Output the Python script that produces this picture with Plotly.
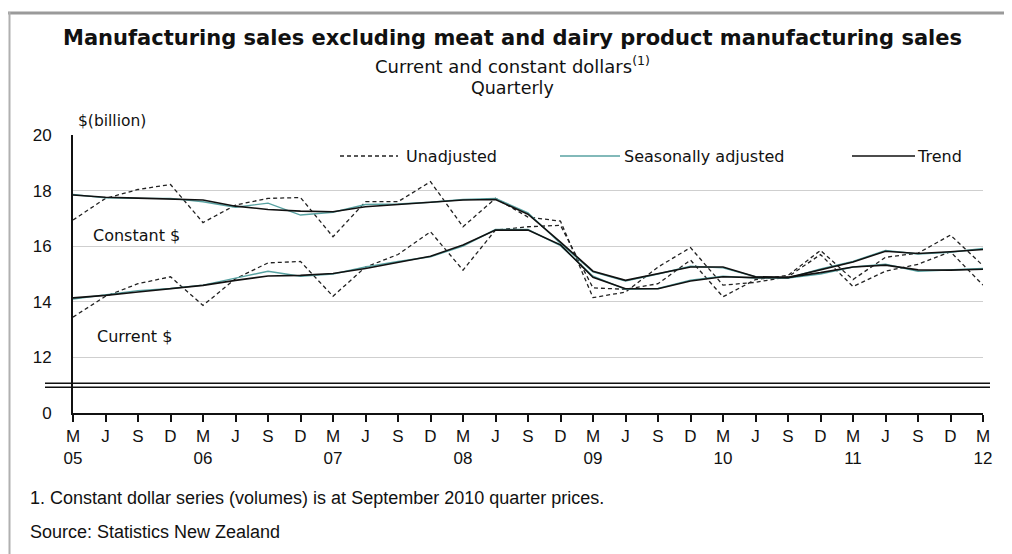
import plotly.graph_objects as go

# ---------------- data ----------------
quarters = ["M05","J05","S05","D05","M06","J06","S06","D06","M07","J07","S07","D07",
            "M08","J08","S08","D08","M09","J09","S09","D09","M10","J10","S10","D10",
            "M11","J11","S11","D11","M12"]

const_unadj = [16.94,17.72,18.04,18.22,16.85,17.48,17.72,17.75,16.34,17.60,17.60,18.32,
               16.70,17.72,17.05,16.90,14.15,14.35,15.25,15.95,14.60,14.70,14.90,15.70,
               14.55,15.10,15.35,15.80,14.60]
const_sa = [17.86,17.74,17.72,17.72,17.60,17.40,17.55,17.12,17.22,17.50,17.52,17.58,
            17.68,17.72,17.20,16.10,15.08,14.75,15.00,15.28,15.22,14.90,14.85,15.00,
            15.25,15.35,15.10,15.15,15.20]
const_trend = [17.84,17.76,17.73,17.70,17.66,17.44,17.32,17.26,17.24,17.42,17.50,17.57,
               17.66,17.68,17.15,16.15,15.10,14.77,15.00,15.25,15.25,14.90,14.88,15.05,
               15.25,15.32,15.15,15.14,15.17]

curr_unadj = [13.45,14.20,14.65,14.90,13.87,14.83,15.40,15.45,14.20,15.25,15.70,16.52,
              15.14,16.58,16.70,16.75,14.50,14.45,14.65,15.50,14.18,14.80,14.95,15.85,
              14.80,15.60,15.75,16.40,15.30]
curr_sa = [14.10,14.25,14.40,14.48,14.60,14.85,15.10,14.92,15.00,15.25,15.45,15.62,
           16.00,16.60,16.60,16.02,14.92,14.45,14.48,14.78,14.92,14.85,14.85,15.18,
           15.45,15.85,15.72,15.78,15.92]
curr_trend = [14.14,14.23,14.35,14.47,14.59,14.77,14.93,14.95,15.02,15.20,15.43,15.64,
              16.04,16.58,16.58,16.05,14.88,14.47,14.47,14.75,14.90,14.87,14.87,15.15,
              15.43,15.82,15.74,15.80,15.88]

y_tickvals = [10, 12, 14, 16, 18, 20]
y_ticktext = ["0", "12", "14", "16", "18", "20"]

# ---------------- figure ----------------
X = list(range(len(quarters)))
tick_text = [q[0] + ("<br>" + q[1:] if q[0] == "M" else "") for q in quarters]

TEAL = "#58a2a2"
fig = go.Figure()
for series in (const_unadj, curr_unadj):
    fig.add_trace(go.Scatter(x=X, y=series, mode="lines", showlegend=False,
                             line=dict(color="#222222", width=1.3, dash="4px,3px")))
for series in (const_sa, curr_sa):
    fig.add_trace(go.Scatter(x=X, y=series, mode="lines", showlegend=False,
                             line=dict(color=TEAL, width=1.4)))
for series in (const_trend, curr_trend):
    fig.add_trace(go.Scatter(x=X, y=series, mode="lines", showlegend=False,
                             line=dict(color="#111111", width=1.6)))

# page has an 8px body margin; positions below are given in page pixels
OFF = 8
L, R, T, B = 73, 983, 135, 413
W, H = R - L, B - T
FIG_W, FIG_H = 1012 - OFF, 554 - OFF

def pxx(x):
    return (x - L) / W
def pyy(y):
    return (B - y) / H

FONT = "DejaVu Sans"
NARROW = "Liberation Sans Narrow, Liberation Sans, Arial"

def ann(text, x, y, size, xanchor="left", family=FONT, color="#111111"):
    fig.add_annotation(text=text, x=pxx(x), y=pyy(y), xref="paper", yref="paper",
                       xanchor=xanchor, yanchor="middle", showarrow=False,
                       font=dict(family=family, size=size, color=color))

ann("<b>Manufacturing sales excluding meat and dairy product manufacturing sales</b>",
    512, 38, 21, xanchor="center", family="DejaVu Sans")
ann("Current and constant dollars<sup>(1)</sup>", 512, 65, 18, xanchor="center")
ann("Quarterly", 512, 88, 17.5, xanchor="center")
ann("$(billion)", 76, 121, 15.5)
ann("Unadjusted", 404, 156, 16)
ann("Seasonally adjusted", 622, 156, 16)
ann("Trend", 915, 156, 16)
ann("Constant $", 91, 235, 16)
ann("Current $", 95, 336, 16)
ann("1. Constant dollar series (volumes) is at September 2010 quarter prices.", 28, 498, 18,
    family="Liberation Sans")
ann("Source: Statistics New Zealand", 28, 532, 18, family="Liberation Sans")

shapes = []
# legend samples
shapes.append(dict(type="line", xref="paper", yref="paper", x0=pxx(340), x1=pxx(398),
                   y0=pyy(156), y1=pyy(156), line=dict(color="#222222", width=1.3, dash="4px,3px")))
shapes.append(dict(type="line", xref="paper", yref="paper", x0=pxx(560), x1=pxx(620),
                   y0=pyy(156), y1=pyy(156), line=dict(color=TEAL, width=1.4)))
shapes.append(dict(type="line", xref="paper", yref="paper", x0=pxx(852), x1=pxx(915),
                   y0=pyy(156), y1=pyy(156), line=dict(color="#111111", width=1.6)))
# axis break (double line)
for yb in (383.3, 387.3):
    shapes.append(dict(type="line", xref="paper", yref="paper", x0=pxx(45), x1=pxx(990),
                       y0=pyy(yb), y1=pyy(yb), line=dict(color="#111111", width=1.5)))
# page frame
shapes.append(dict(type="line", xref="paper", yref="paper", x0=pxx(8), x1=pxx(1012),
                   y0=pyy(13), y1=pyy(13), line=dict(color="#9a9a9a", width=3)))
shapes.append(dict(type="line", xref="paper", yref="paper", x0=pxx(9.5), x1=pxx(9.5),
                   y0=pyy(12), y1=pyy(554), line=dict(color="#b0b0b0", width=2)))

fig.update_layout(
    width=FIG_W, height=FIG_H,
    margin=dict(l=L - OFF, r=FIG_W - (R - OFF), t=T - OFF, b=FIG_H - (B - OFF)),
    paper_bgcolor="white", plot_bgcolor="white",
    shapes=shapes,
    xaxis=dict(range=[0, len(quarters) - 1], tickmode="array", tickvals=X, ticktext=tick_text,
               ticks="outside", ticklen=7, tickwidth=1.5, tickcolor="#111111",
               showline=True, linecolor="#111111", linewidth=1.8,
               showgrid=False, zeroline=False,
               tickfont=dict(family=NARROW, size=17, color="#111111")),
    yaxis=dict(range=[10, 20], tickmode="array", tickvals=y_tickvals, ticktext=y_ticktext,
               showgrid=True, gridcolor="#cfcfcf", gridwidth=1,
               showline=True, linecolor="#111111", linewidth=2, ticks="",
               zeroline=False, ticklabelstandoff=16,
               tickfont=dict(family=NARROW, size=17, color="#111111")),
)

fig.write_html("out.html")
